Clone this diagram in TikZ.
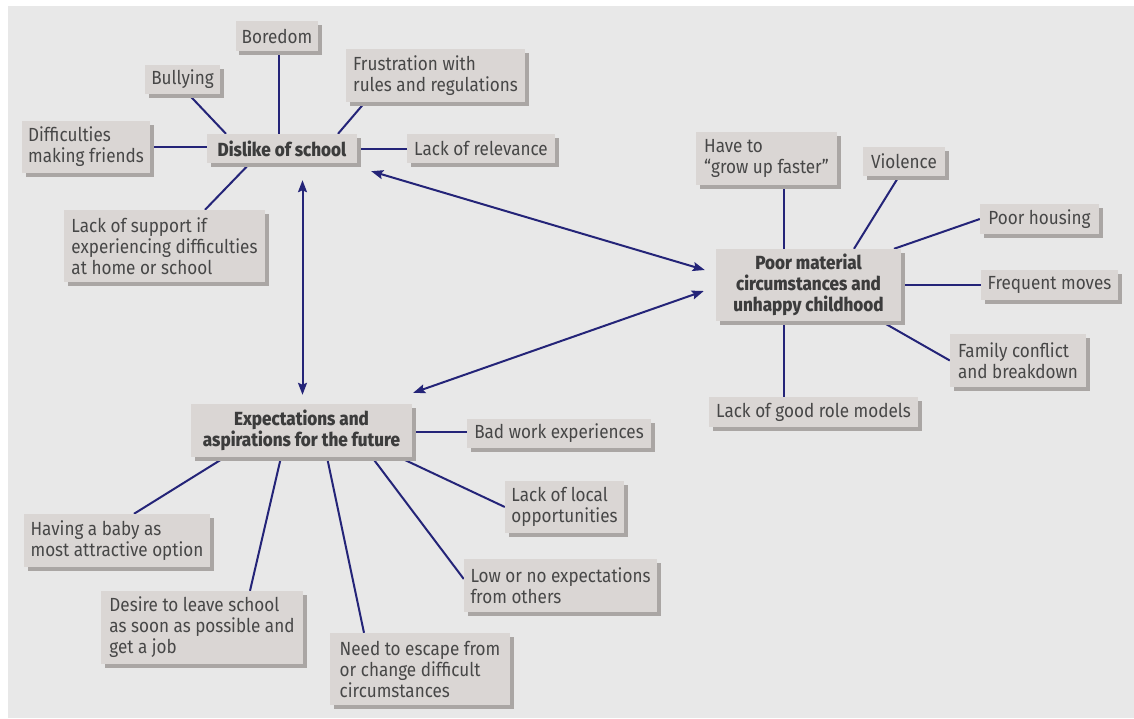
\documentclass[tikz,border=0pt]{standalone}
\usepackage{fontspec}
\setmainfont{Fira Sans}[FakeStretch=0.9, BoldFont={Fira Sans ExtraBold}]
\usetikzlibrary{arrows.meta,shadows}
\definecolor{bgc}{HTML}{E8E8E8}
\definecolor{boxc}{HTML}{DAD6D4}
\definecolor{shc}{HTML}{AAA6A4}
\definecolor{txc}{HTML}{474747}
\definecolor{navy}{HTML}{242478}
\pgfdeclarelayer{bg}
\pgfdeclarelayer{lines}
\pgfsetlayers{bg,lines,main}
\tikzset{
  bx/.style 2 args={fill=boxc, text=txc, minimum width=#1, minimum height=#2,
    inner xsep=6pt, inner ysep=2pt, align=left,
    font=\fontsize{19}{21}\selectfont,
    general shadow={fill=shc, shadow xshift=3.5pt, shadow yshift=-3.5pt}},
  hub/.style 2 args={bx={#1}{#2}, align=center, font=\fontsize{19}{21}\selectfont\bfseries, text=txc!85!black},
  ln/.style={draw=navy, line width=2pt},
  arr/.style={draw=navy, line width=2pt, {Stealth[length=12pt,width=9pt,inset=2pt]}-{Stealth[length=12pt,width=9pt,inset=2pt]}}
}
\begin{document}
\begin{tikzpicture}[x=1pt,y=-1pt]
\useasboundingbox (0,0) rectangle (1134,718);
\begin{pgfonlayer}{bg}
\fill[white] (0,0) rectangle (1134,718);
\fill[bgc] (8,6) rectangle (1134,718);
\end{pgfonlayer}
% hubs
\node[hub={150pt}{29pt}] (dis) at (282,148.5) {Dislike of school};
\node[hub={185pt}{72pt}] (pm) at (808.5,285) {Poor material\\circumstances and\\unhappy childhood};
\node[hub={221pt}{53pt}] (exp) at (301.5,430.5) {Expectations and\\aspirations for the future};
% dislike of school
\node[bx={80pt}{30pt}] (bor) at (277,36) {Boredom};
\node[bx={75pt}{29pt}] (bul) at (182.5,79.5) {Bullying};
\node[bx={179pt}{53pt}] (fru) at (435.5,75.5) {Frustration with\\rules and regulations};
\node[bx={128pt}{52pt}] (dif) at (86,147) {Difficulties\\making friends};
\node[bx={148pt}{29pt}] (rel) at (481,148.5) {Lack of relevance};
\node[bx={201pt}{72pt}] (sup) at (164.5,246) {Lack of support if\\experiencing difficulties\\at home or school};
% poor material
\node[bx={141pt}{53pt}] (hav) at (766.5,158.5) {Have to\\“grow up faster”};
\node[bx={82pt}{29pt}] (vio) at (904,161.5) {Violence};
\node[bx={119pt}{30pt}] (hou) at (1039.5,219) {Poor housing};
\node[bx={137pt}{30pt}] (fre) at (1049.5,285) {Frequent moves};
\node[bx={136pt}{53pt}] (fam) at (1018,360.5) {Family conflict\\and breakdown};
\node[bx={209pt}{30pt}] (rol) at (813.5,412) {Lack of good role models};
% expectations
\node[bx={184pt}{29pt}] (bad) at (559,433.5) {Bad work experiences};
\node[bx={119pt}{52pt}] (loc) at (564.5,507) {Lack of local\\opportunities};
\node[bx={193pt}{53pt}] (low) at (560.5,585.5) {Low or no expectations\\from others};
\node[bx={186pt}{53pt}] (bab) at (117,540.5) {Having a baby as\\most attractive option};
\node[bx={202pt}{73pt}] (des) at (202,627.5) {Desire to leave school\\as soon as possible and\\get a job};
\node[bx={180pt}{72pt}] (nee) at (420,669) {Need to escape from\\or change difficult\\circumstances};
\begin{pgfonlayer}{lines}
\draw[ln] ([xshift=6pt]bul.south) -- ([xshift=-56pt]dis.north);
\draw[ln] ([xshift=2pt]bor.south) -- ([xshift=-3pt]dis.north);
\draw[ln] ([xshift=-70.5pt]fru.south) -- ([xshift=56pt]dis.north);
\draw[ln] (dif.east) -- (dif.east -| dis.west);
\draw[ln] (dis.east) -- (rel.west);
\draw[ln] ([xshift=-32pt]dis.south) -- ([xshift=40.5pt]sup.north);
\draw[ln] ([xshift=17pt]hav.south) -- ([xshift=-25pt]pm.north);
\draw[ln] ([xshift=-5pt]vio.south) -- ([xshift=45.5pt]pm.north);
\draw[ln] (hou.west) -- ([xshift=85.5pt]pm.north);
\draw[ln] (pm.east) -- (fre.west);
\draw[ln] ([xshift=72.5pt]pm.south) -- (fam.west);
\draw[ln] ([xshift=-25pt]pm.south) -- ([xshift=-30pt]rol.north);
\draw[ln] ([yshift=-1.5pt]exp.east) -- ([yshift=-1.5pt]exp.east -| bad.west);
\draw[ln] ([xshift=97.5pt]exp.south) -- (loc.west);
\draw[ln] ([xshift=70.5pt]exp.south) -- ([yshift=6.5pt]low.west);
\draw[ln] ([xshift=25.5pt]exp.south) -- ([xshift=-56pt]nee.north);
\draw[ln] ([xshift=-20.5pt]exp.south) -- ([xshift=48pt]des.north);
\draw[ln] ([xshift=-76.5pt]exp.south) -- ([xshift=17pt]bab.north);
\draw[arr] ([xshift=20.5pt,yshift=-17pt]dis.south) -- ([xshift=1pt,yshift=9pt]exp.north);
\draw[arr] ([xshift=14pt,yshift=-8pt]dis.south east) -- ([xshift=-11pt,yshift=15pt]pm.west);
\draw[arr] ([xshift=1pt,yshift=11pt]exp.north east) -- ([xshift=-12pt,yshift=-6pt]pm.west);
\end{pgfonlayer}
\end{tikzpicture}
\end{document}
